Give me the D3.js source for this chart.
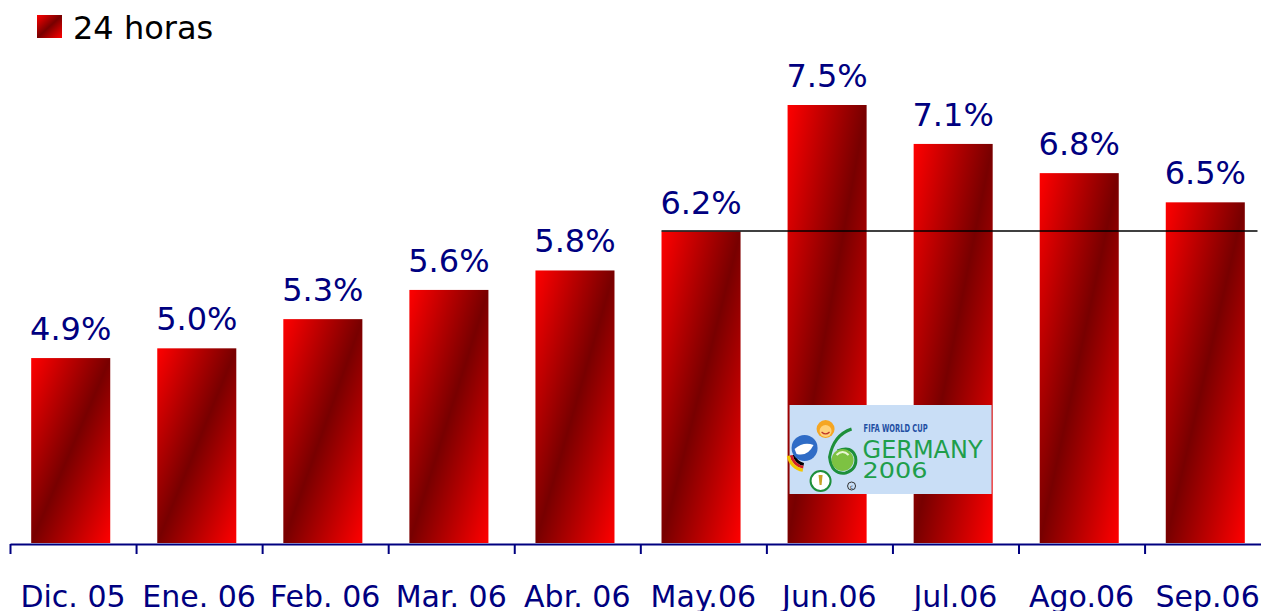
<!DOCTYPE html>
<html>
<head>
<meta charset="utf-8">
<script src="https://cdn.jsdelivr.net/npm/d3@7.9.0/dist/d3.min.js"></script>
<style>
  html, body { margin: 0; padding: 0; background: #fff; }
  svg { display: block; font-family: "DejaVu Sans", Verdana, sans-serif; }
</style>
</head>
<body>
<div id="chart"></div>
<script>
// ---- data ----
const months = ["Dic. 05", "Ene. 06", "Feb. 06", "Mar. 06", "Abr. 06",
                "May.06", "Jun.06", "Jul.06", "Ago.06", "Sep.06"];
const share24h = [4.9, 5.0, 5.3, 5.6, 5.8, 6.2, 7.5, 7.1, 6.8, 6.5];
const seriesName = "24 horas";
const refMonth = "May.06";   // horizontal reference line starts here

const width = 1261, height = 611;
const navy = "#000080";

const svg = d3.select("#chart").append("svg")
    .attr("width", width)
    .attr("height", height);

// diagonal red gradient used by the bars and the legend swatch
const defs = svg.append("defs");
const grad = defs.append("linearGradient")
    .attr("id", "barGrad")
    .attr("x1", 0).attr("y1", 0)
    .attr("x2", 1).attr("y2", 1);
grad.append("stop").attr("offset", "0%").attr("stop-color", "#ff0000");
grad.append("stop").attr("offset", "50%").attr("stop-color", "#780000");
grad.append("stop").attr("offset", "100%").attr("stop-color", "#ff0000");

// ---- scales ----
const x = d3.scaleBand()
    .domain(months)
    .range([8.5, 1267.5])
    .paddingInner(0.373)
    .paddingOuter(0.18);

const y = d3.scaleLinear()
    .domain([3, 7.5])
    .range([543, 105]);

// tick positions sit between the categories
const tx = d3.scaleLinear()
    .domain([0, months.length])
    .range([10, 10 + months.length * x.step()]);

// ---- bars ----
svg.append("g")
    .selectAll("rect")
    .data(months)
    .join("rect")
    .attr("x", d => x(d))
    .attr("width", x.bandwidth())
    .attr("y", (d, i) => y(share24h[i]))
    .attr("height", (d, i) => y(3) - y(share24h[i]))
    .attr("fill", "url(#barGrad)");

// ---- value labels ----
svg.append("g")
    .selectAll("text")
    .data(months)
    .join("text")
    .attr("x", d => x(d) + x.bandwidth() / 2)
    .attr("y", (d, i) => y(share24h[i]) - 18)
    .attr("text-anchor", "middle")
    .style("font-size", "32px")
    .style("fill", navy)
    .text((d, i) => share24h[i].toFixed(1) + "%");

// ---- reference line at May level ----
const refVal = share24h[months.indexOf(refMonth)];
svg.append("line")
    .attr("x1", x(refMonth))
    .attr("x2", x.range()[1] - 10)
    .attr("y1", y(refVal) - 0.5)
    .attr("y2", y(refVal) - 0.5)
    .attr("stroke", "#000")
    .attr("stroke-width", 1.5);

// ---- x axis ----
const axis = svg.append("g")
    .attr("transform", "translate(0,544)")
    .call(d3.axisBottom(tx)
        .tickValues(d3.range(0, months.length + 1))
        .tickSize(10)
        .tickSizeOuter(0)
        .tickFormat(""));
axis.select(".domain").attr("stroke", navy).attr("stroke-width", 2.2);
axis.selectAll(".tick line").attr("stroke", navy).attr("stroke-width", 2);

svg.append("g")
    .selectAll("text")
    .data(months)
    .join("text")
    .attr("x", (d, i) => tx(i + 0.5))
    .attr("y", 607)
    .attr("text-anchor", "middle")
    .style("font-size", "30px")
    .style("fill", navy)
    .text(d => d);

// ---- legend ----
svg.append("rect")
    .attr("x", 37).attr("y", 15)
    .attr("width", 25).attr("height", 23)
    .attr("fill", "url(#barGrad)");
svg.append("text")
    .attr("x", 73).attr("y", 39)
    .style("font-size", "32px")
    .style("fill", "#000")
    .text(seriesName);

// ---- FIFA World Cup 2006 badge over the Jun/Jul bars ----
const logo = svg.append("g")
    .attr("transform", `translate(${x("Jun.06") + 2},405)`);
logo.append("rect")
    .attr("width", 202).attr("height", 89)
    .attr("fill", "#c9def6");
// flag stripes on the left
[["#000", 8], ["#d21f26", 11], ["#f3c500", 14]].forEach(([c, r]) => {
  logo.append("path")
      .attr("d", d3.arc()({innerRadius: r + 2, outerRadius: r + 5, startAngle: Math.PI * 1.05, endAngle: Math.PI * 1.45}))
      .attr("transform", "translate(16,48)")
      .attr("fill", c);
});
// blue ball
logo.append("circle").attr("cx", 15).attr("cy", 43).attr("r", 13).attr("fill", "#2f6cc6");
logo.append("path")
    .attr("d", "M5,44 Q14,36 24,40 Q18,52 7,49 Z")
    .attr("fill", "#fff");
// orange sun face
logo.append("circle").attr("cx", 36).attr("cy", 24).attr("r", 9).attr("fill", "#f5a623");
logo.append("circle").attr("cx", 36).attr("cy", 26).attr("r", 6).attr("fill", "#ffd27a");
logo.append("path").attr("d", "M32,27 Q36,31 40,27").attr("stroke", "#c0392b").attr("fill", "none").attr("stroke-width", 1.2);
// green "6"
logo.append("path")
    .attr("d", "M62,24 Q44,30 40,52 Q42,70 56,68 Q68,64 66,52 Q62,40 48,46")
    .attr("fill", "none").attr("stroke", "#1d8f3a").attr("stroke-width", 3);
logo.append("circle").attr("cx", 53).attr("cy", 55).attr("r", 11).attr("fill", "#7dc242");
logo.append("path").attr("d", "M47,50 Q53,44 59,50").attr("stroke", "#e9f6d4").attr("fill", "none").attr("stroke-width", 2);
// small trophy ring
logo.append("circle").attr("cx", 31).attr("cy", 76).attr("r", 10)
    .attr("fill", "#fff").attr("stroke", "#1d8f3a").attr("stroke-width", 2);
logo.append("path").attr("d", "M29,70 L33,70 L32,80 L30,80 Z").attr("fill", "#c9a227");
// copyright mark
logo.append("circle").attr("cx", 62).attr("cy", 81).attr("r", 4)
    .attr("fill", "none").attr("stroke", "#333").attr("stroke-width", 1);
logo.append("text").attr("x", 62).attr("y", 83.5).attr("text-anchor", "middle")
    .style("font-size", "6px").style("fill", "#333").text("c");
// wordmark
logo.append("text")
    .attr("x", 74).attr("y", 27)
    .attr("textLength", 64).attr("lengthAdjust", "spacingAndGlyphs")
    .style("font-size", "11px").style("font-weight", "bold")
    .style("fill", "#1f4fa3")
    .text("FIFA WORLD CUP");
logo.append("text")
    .attr("x", 73).attr("y", 53)
    .attr("textLength", 120).attr("lengthAdjust", "spacingAndGlyphs")
    .style("font-size", "25px")
    .style("fill", "#1f9e4b")
    .text("GERMANY");
logo.append("text")
    .attr("x", 73).attr("y", 73)
    .attr("textLength", 65).attr("lengthAdjust", "spacingAndGlyphs")
    .style("font-size", "21px")
    .style("fill", "#1f9e4b")
    .text("2006");
</script>
</body>
</html>
